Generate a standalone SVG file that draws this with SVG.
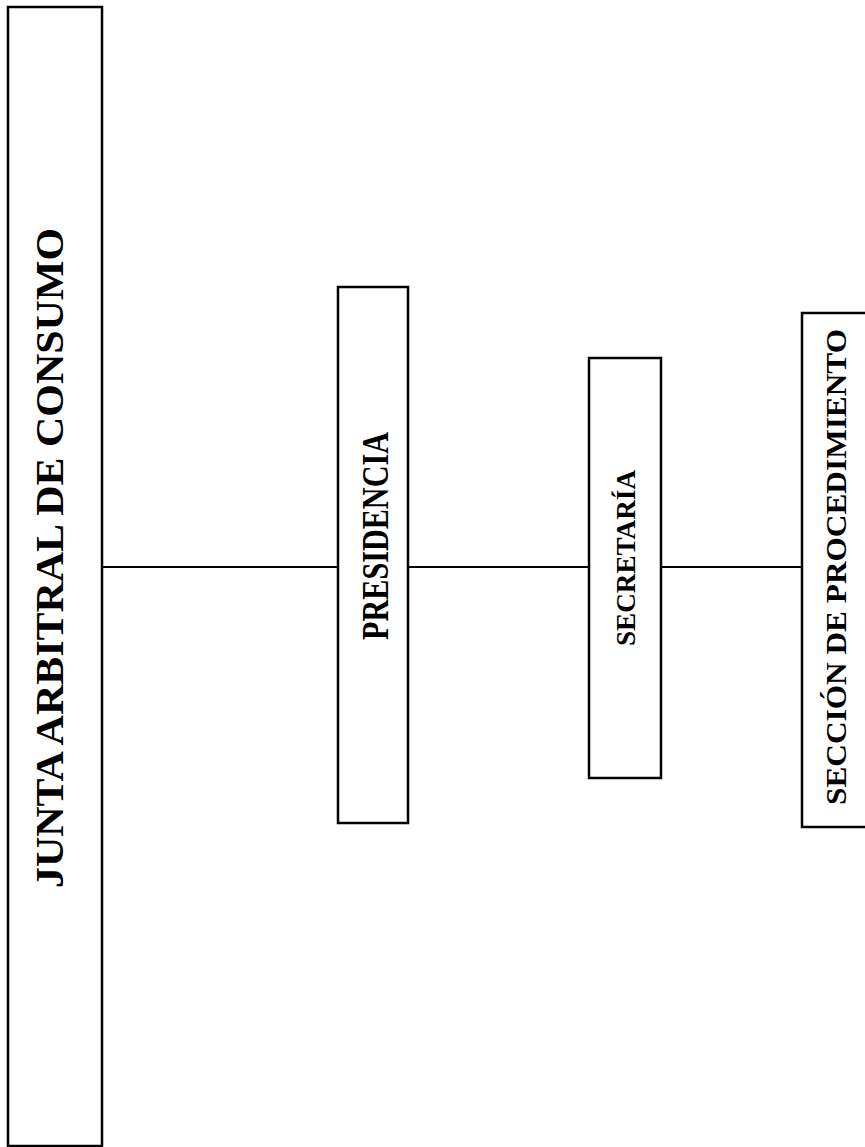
<svg xmlns="http://www.w3.org/2000/svg" width="865" height="1147" viewBox="0 0 865 1147">
<style>
.box{fill:#fff;stroke:#000;stroke-width:2.5}
.lbl{font-family:"Liberation Serif","Times New Roman",serif;font-weight:bold;fill:#000;text-anchor:middle}
.con{stroke:#000;stroke-width:1.8;fill:none}
</style>
<rect width="865" height="1147" fill="#fff"/>
<g id="connectors">
<line class="con" x1="102" y1="567" x2="338" y2="567"/>
<line class="con" x1="408" y1="567" x2="589" y2="567"/>
<line class="con" x1="661" y1="567" x2="802" y2="567"/>
</g>
<g id="junta">
<rect class="box" x="8" y="7" width="94" height="1139"/>
<text class="lbl" font-size="41" transform="translate(63,558) rotate(-90)" textLength="660" lengthAdjust="spacingAndGlyphs">JUNTA ARBITRAL DE CONSUMO</text>
</g>
<g id="presidencia">
<rect class="box" x="338" y="287" width="70" height="536"/>
<text class="lbl" font-size="38" transform="translate(388,536) rotate(-90)" textLength="208" lengthAdjust="spacingAndGlyphs">PRESIDENCIA</text>
</g>
<g id="secretaria">
<rect class="box" x="589" y="358" width="72" height="420"/>
<text class="lbl" font-size="28" transform="translate(635,558) rotate(-90)" textLength="176" lengthAdjust="spacingAndGlyphs">SECRETARÍA</text>
</g>
<g id="seccion">
<rect class="box" x="802" y="313" width="70" height="514"/>
<text class="lbl" font-size="30" transform="translate(846,567) rotate(-90)" textLength="476" lengthAdjust="spacingAndGlyphs">SECCIÓN DE PROCEDIMIENTO</text>
</g>
</svg>
